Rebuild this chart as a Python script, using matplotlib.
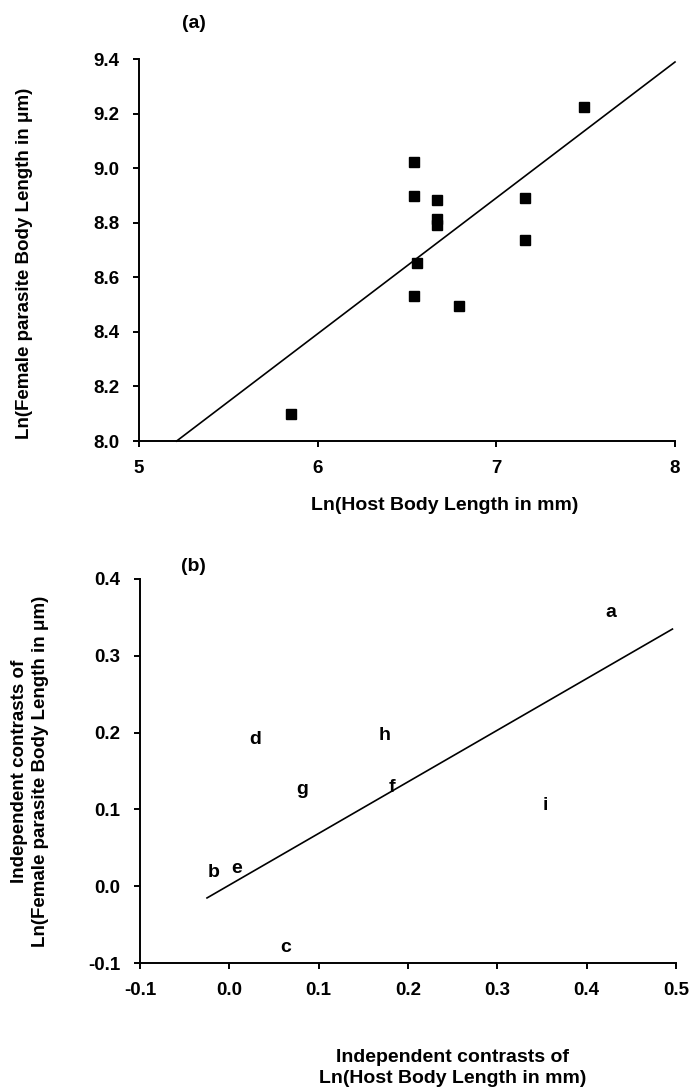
import numpy as np
import matplotlib
matplotlib.use("Agg")
import matplotlib.pyplot as plt

plt.rcParams['font.family'] = ['Liberation Sans', 'DejaVu Sans']
plt.rcParams['font.weight'] = 'bold'

# ---- panel (a): raw log sizes ----
host_ln = [7.49, 6.54, 6.54, 6.67, 6.67, 6.67, 7.16, 7.16, 6.555, 6.54, 6.79, 5.85]
female_ln = [9.225, 9.024, 8.897, 8.885, 8.814, 8.79, 8.889, 8.735, 8.652, 8.532, 8.496, 8.10]
fit_a_slope = 0.498
fit_a_icpt = 5.405
fit_a_xrange = [5.21, 8.0]

# ---- panel (b): independent contrasts ----
contrast_labels = ['a', 'b', 'c', 'd', 'e', 'f', 'g', 'h', 'i']
contrast_host = [0.427, -0.0175, 0.0635, 0.0285, 0.0085, 0.1825, 0.081, 0.174, 0.3535]
contrast_female = [0.357, 0.0175, -0.080, 0.191, 0.023, 0.128, 0.126, 0.1965, 0.105]
fit_b_slope = 0.672
fit_b_icpt = 0.0015
fit_b_xrange = [-0.025, 0.496]

W, H = 698, 1090
fig = plt.figure(figsize=(W / 100, H / 100), dpi=100)


def axes_px(left, right, top, bottom):
    return fig.add_axes([left / W, 1 - bottom / H, (right - left) / W, (bottom - top) / H])


def label_px(x, y, s, rot=0, size=14):
    # text centred on a pixel position (from top-left)
    fig.text(x / W, 1 - y / H, s, ha='center', va='center', rotation=rot,
             fontsize=size, fontweight='bold', linespacing=1.35, multialignment='center')


def style(ax):
    for s in ['top', 'right']:
        ax.spines[s].set_visible(False)
    for s in ['left', 'bottom']:
        ax.spines[s].set_linewidth(1.4)
    ax.tick_params(direction='out', length=4, width=1.4, pad=10, labelsize=13.5)
    for lab in ax.get_xticklabels() + ax.get_yticklabels():
        lab.set_fontweight('bold')


# panel (a)
ax1 = axes_px(139, 675, 59, 441)
ax1.plot(host_ln, female_ln, 's', color='black', ms=7.5, clip_on=False)
xa = np.array(fit_a_xrange)
ax1.plot(xa, fit_a_icpt + fit_a_slope * xa, color='black', lw=1.2, clip_on=False)
ax1.set_xlim(5, 8)
ax1.set_ylim(8.0, 9.4)
ax1.set_xticks([5, 6, 7, 8])
ax1.set_yticks(np.arange(8.0, 9.41, 0.2))
ax1.set_yticklabels([f"{v:.1f}" for v in np.arange(8.0, 9.41, 0.2)])
style(ax1)

# panel (b)
ax2 = axes_px(140, 676, 579, 963)
for lab, x, y in zip(contrast_labels, contrast_host, contrast_female):
    ax2.text(x, y, lab, ha='center', va='center', fontsize=14, fontweight='bold')
xb = np.array(fit_b_xrange)
ax2.plot(xb, fit_b_icpt + fit_b_slope * xb, color='black', lw=1.2, clip_on=False)
ax2.set_xlim(-0.1, 0.5)
ax2.set_ylim(-0.1, 0.4)
ax2.set_xticks(np.arange(-0.1, 0.51, 0.1))
ax2.set_xticklabels([f"{v:.1f}" for v in np.arange(-0.1, 0.51, 0.1)])
ax2.set_yticks(np.arange(-0.1, 0.41, 0.1))
ax2.set_yticklabels([f"{v:.1f}" for v in np.arange(-0.1, 0.41, 0.1)])
style(ax2)

label_px(445, 505, "Ln(Host Body Length in mm)")
label_px(25, 263, "Ln(Female parasite Body Length in μm)", rot=90, size=13.5)
label_px(453, 1068, "Independent contrasts of\nLn(Host Body Length in mm)")
label_px(30, 771, "Independent contrasts of\nLn(Female parasite Body Length in μm)", rot=90, size=13.5)
label_px(194, 23, "(a)")
label_px(193, 567, "(b)")

fig.savefig("out.png", dpi=100)
